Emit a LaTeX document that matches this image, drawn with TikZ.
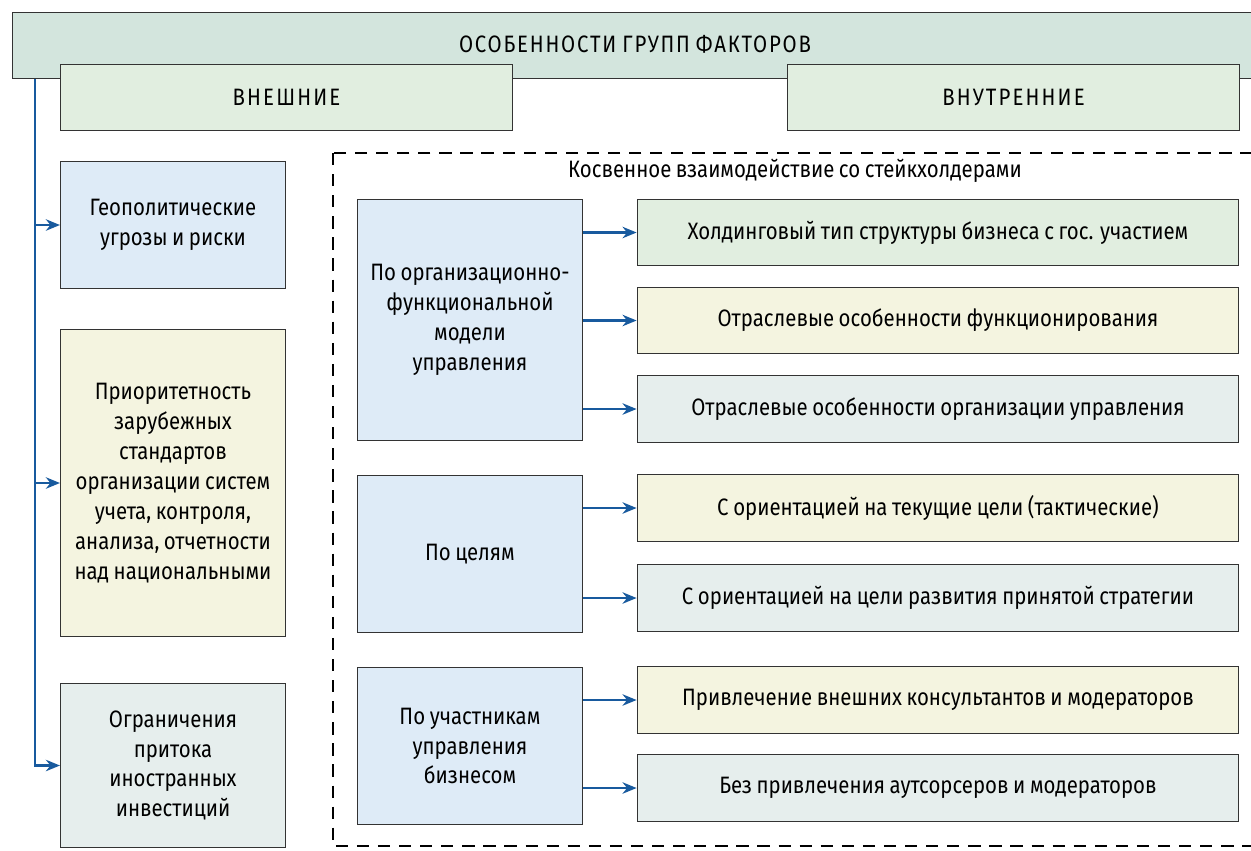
\documentclass[tikz,border=0pt]{standalone}
\usepackage{fontspec}
\setmainfont{Fira Sans}[FakeStretch=0.86, WordSpace=0.85]
\usepackage{tikz}
\usetikzlibrary{arrows.meta}
\definecolor{headgreen}{RGB}{211,229,221}
\definecolor{boxgreen}{RGB}{225,238,224}
\definecolor{boxblue}{RGB}{222,235,247}
\definecolor{boxyellow}{RGB}{244,244,224}
\definecolor{boxgrey}{RGB}{230,238,237}
\definecolor{linkblue}{RGB}{24,90,158}
\tikzstyle{base} = [rectangle, draw=black!80, line width=0.6pt, align=center, inner sep=2pt, font=\fontsize{13.5}{17}\selectfont]
\tikzstyle{head} = [base, fill=headgreen, minimum height=38pt]
\tikzstyle{group} = [base, fill=boxgreen, minimum width=256.8pt, minimum height=38pt]
\tikzstyle{factor} = [base, minimum width=128.1pt, text width=120pt, align=flush center]
\tikzstyle{item} = [base, minimum width=342.5pt, minimum height=38pt]
\tikzstyle{arrow} = [draw=linkblue, line width=1.3pt, -{Stealth[length=8pt, width=6.5pt]}]

\begin{document}
\begin{tikzpicture}
				[x=0.02cm, y=-0.02cm]
				\clip (0,0) rectangle (1251,850);
				\fill[white] (0,0) rectangle (1251,850);

				\node (title) [head, minimum width=710pt] at (636,45.5) {};
				\node [font=\fontsize{13.5}{17}\selectfont\addfontfeatures{LetterSpace=7.5}] at (635,44) {ОСОБЕННОСТИ ГРУПП ФАКТОРОВ};
				\node (ext) [group] at (286.5,97.5) {\addfontfeatures{LetterSpace=9}ВНЕШНИЕ};
				\node (int) [group] at (1013.5,97.5) {\addfontfeatures{LetterSpace=9}ВНУТРЕННИЕ};

				\draw [line width=1.2pt, dash pattern=on 7pt off 5pt] (333,153) rectangle (1270,846);
				\node (indirect) [font=\fontsize{13.5}{17}\selectfont] at (795,171) {Косвенное взаимодействие со стейкхолдерами};

				\node (geo) [factor, fill=boxblue, minimum height=72.6pt] at (173,225) {Геополитические\\угрозы и риски};
				\node (prio) [factor, fill=boxyellow, minimum height=174.6pt] at (173,483) {Приоритетность\\зарубежных\\стандартов\\организации систем\\учета, контроля,\\анализа, отчетности\\над национальными};
				\node (limit) [factor, fill=boxgrey, minimum height=93.5pt] at (173,765.5) {Ограничения\\притока\\иностранных\\инвестиций};

				\node (model) [factor, fill=boxblue, minimum height=137.2pt] at (470,320) {По организационно-\\функциональной\\модели\\управления};
				\node (goals) [factor, fill=boxblue, minimum height=89.6pt] at (470,554) {По целям};
				\node (parts) [factor, fill=boxblue, minimum height=89.6pt] at (470,746) {По участникам\\управления\\бизнесом};

				\node (hold) [item, fill=boxgreen] at (938,232.5) {Холдинговый тип структуры бизнеса с гос. участием};
				\node (branch) [item, fill=boxyellow] at (938,320.5) {Отраслевые особенности функционирования};
				\node (mgmt) [item, fill=boxgrey] at (938,409) {Отраслевые особенности организации управления};
				\node (tact) [item, fill=boxyellow] at (938,508) {С ориентацией на текущие цели (тактические)};
				\node (strat) [item, fill=boxgrey] at (938,598) {С ориентацией на цели развития принятой стратегии};
				\node (consult) [item, fill=boxyellow] at (938,700) {Привлечение внешних консультантов и модераторов};
				\node (noout) [item, fill=boxgrey] at (938,788) {Без привлечения аутсорсеров и модераторов};

				\coordinate (trunk) at (35,79);
				\draw [arrow] (trunk) |- (limit.west);
				\draw [arrow] (trunk |- geo.west) -- (geo.west);
				\draw [arrow] (trunk |- prio.west) -- (prio.west);

				\draw [arrow] (model.east |- hold.west) -- (hold.west);
				\draw [arrow] (model.east |- branch.west) -- (branch.west);
				\draw [arrow] (model.east |- mgmt.west) -- (mgmt.west);
				\draw [arrow] (goals.east |- tact.west) -- (tact.west);
				\draw [arrow] (goals.east |- strat.west) -- (strat.west);
				\draw [arrow] (parts.east |- consult.west) -- (consult.west);
				\draw [arrow] (parts.east |- noout.west) -- (noout.west);
			\end{tikzpicture}
\end{document}
